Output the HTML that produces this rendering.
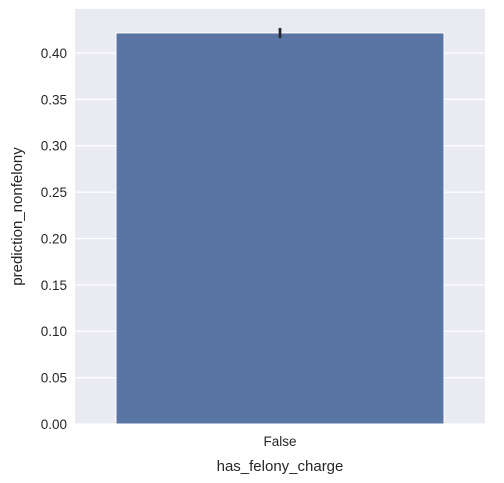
<!DOCTYPE html>
<html><head><meta charset="utf-8"><style>body{margin:0;background:#fff}svg{display:block;font-family:"Liberation Sans",sans-serif}</style></head>
<body>
<svg id="chart" width="504" height="483" xmlns="http://www.w3.org/2000/svg">
<rect x="75" y="9" width="410" height="415" fill="#eaeaf2"/>
<g id="grid"></g><g id="bars"></g><g id="yticks"></g><g id="xticks"></g>
<text x="280" y="471" font-size="15" text-anchor="middle" fill="#262626">has_felony_charge</text>
<text transform="translate(22,216.5) rotate(-90)" font-size="15" text-anchor="middle" fill="#262626">prediction_nonfelony</text>
</svg>
<script>
const categories=["False"];
const values=[0.4216];
const ciLow=[0.416];
const ciHigh=[0.427];
const yTicks=[0,0.05,0.1,0.15,0.2,0.25,0.3,0.35,0.4];
const yTickLabels=["0.00","0.05","0.10","0.15","0.20","0.25","0.30","0.35","0.40"];
const L=75,R=485,T=9,B=424,yMax=0.4474;
const ns="http://www.w3.org/2000/svg";
const y=v=>B-(v/yMax)*(B-T);
const bw=(R-L)/categories.length;
const x=i=>L+bw*(i+0.5);
function mk(t,a,p){const e=document.createElementNS(ns,t);for(const k in a)e.setAttribute(k,a[k]);p.appendChild(e);return e;}
const g=document.getElementById('grid'),yt=document.getElementById('yticks'),bars=document.getElementById('bars'),xt=document.getElementById('xticks');
yTicks.forEach((v,i)=>{
 const l=mk('line',{x1:L,x2:R,y1:y(v),y2:y(v),stroke:'#fff','stroke-width':1.3},g);
 
 
 const t=mk('text',{x:L-8,y:y(v)+5,'font-size':13.5,'text-anchor':'end',fill:'#262626'},yt);
 t.textContent=yTickLabels[i];
 
 
});
categories.forEach((c,i)=>{
 const w=bw*0.8;
 const r=mk('rect',{x:x(i)-w/2,y:y(values[i]),width:w,height:B-y(values[i]),fill:'#5875a4',stroke:'#fff','stroke-width':1},bars);
 
 
 const e=mk('line',{x1:x(i),x2:x(i),y1:y(ciHigh[i]),y2:y(ciLow[i]),stroke:'#262626','stroke-width':2.7},bars);
 
 
 const t=mk('text',{x:x(i),y:B+22,'font-size':13.5,'text-anchor':'middle',fill:'#262626'},xt);
 t.textContent=c;
 
 
});
</script>
</body></html>
